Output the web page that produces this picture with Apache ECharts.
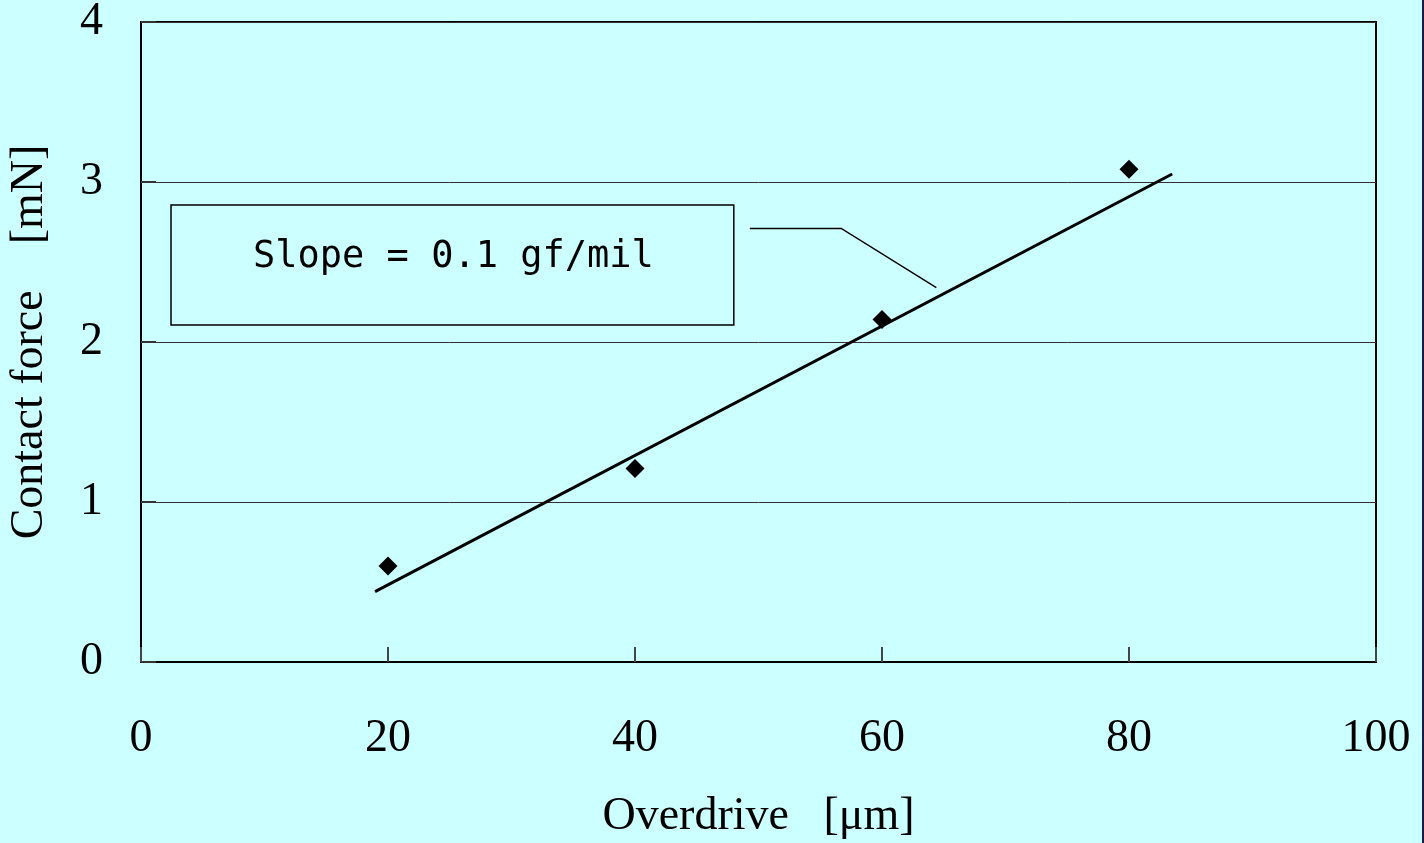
<!DOCTYPE html>
<html>
<head>
<meta charset="UTF-8">
<title>Contact force vs overdrive</title>
<style type="text/css">
	* { margin: 0; padding: 0; }
	html, body { background: #ccffff; }
	#chart { width: 1424px; height: 843px; }
</style>
</head>
<body>
<div id="chart"></div>
<script src="https://cdn.jsdelivr.net/npm/echarts@6/dist/echarts.min.js"></script>
<script type="text/javascript">
	// measured points
	var overdrive = [20, 40, 60, 80];
	var force = [0.6, 1.21, 2.14, 3.08];
	// fitted line ends
	var fitX = [18.95, 83.5];
	var fitY = [0.44, 3.05];
	var xTicks = [0, 20, 40, 60, 80, 100];
	var yTicks = [0, 1, 2, 3, 4];
	var slopeText = 'Slope = 0.1 gf/mil';

	var serif = '"Liberation Serif", "Times New Roman", serif';
	var chart = echarts.init(document.getElementById('chart'));

	var points = overdrive.map(function(x, i) { return [x, force[i]]; });
	var fit = fitX.map(function(x, i) { return [x, fitY[i]]; });

	chart.setOption({
		backgroundColor: '#ccffff',
		animation: false,
		grid: {
			left: 141, right: 48, top: 22, bottom: 181,
			outerBoundsMode: 'none', containLabel: false,
			show: true, borderColor: '#000', borderWidth: 2
		},
		xAxis: {
			type: 'value', min: xTicks[0], max: xTicks[xTicks.length - 1], interval: 20,
			name: 'Overdrive\u00a0\u00a0\u00a0[\u03bcm]', nameLocation: 'middle', nameGap: 132,
			nameTextStyle: { fontFamily: serif, fontSize: 46, color: '#000' },
			axisLine: { lineStyle: { color: '#000', width: 2 } },
			axisTick: { inside: true, length: 15, lineStyle: { color: '#444', width: 2 } },
			axisLabel: { fontFamily: serif, fontSize: 46, color: '#000', margin: 54 },
			splitLine: { show: false }
		},
		yAxis: {
			type: 'value', min: yTicks[0], max: yTicks[yTicks.length - 1], interval: 1,
			name: 'Contact force\u00a0\u00a0\u00a0\u00a0[mN]', nameLocation: 'middle', nameGap: 88,
			nameTextStyle: { fontFamily: serif, fontSize: 46, color: '#000' },
			axisLine: { lineStyle: { color: '#000', width: 2 } },
			axisTick: { inside: true, length: 15, lineStyle: { color: '#333', width: 2 } },
			axisLabel: { fontFamily: serif, fontSize: 46, color: '#000', margin: 38 },
			splitLine: { show: true, lineStyle: { color: '#333', width: 1 } }
		},
		series: [{
			type: 'line', data: fit, symbol: 'none',
			lineStyle: { color: '#000', width: 3 }
		}, {
			type: 'scatter', data: points, symbol: 'diamond', symbolSize: [19, 19],
			itemStyle: { color: '#000', opacity: 1 }
		}]
	});

	// callout box and leader, placed in data coordinates
	function px(p) { return chart.convertToPixel({ gridIndex: 0 }, p); }
	var b0 = px([2.43, 2.856]), b1 = px([48.0, 2.106]);
	var l0 = px([49.3, 2.71]), l1 = px([56.7, 2.71]), l2 = px([64.4, 2.34]);
	chart.setOption({
		graphic: [{
			type: 'rect',
			shape: { x: b0[0], y: b0[1], width: b1[0] - b0[0], height: b1[1] - b0[1] },
			style: { fill: 'none', stroke: '#000', lineWidth: 1.5 }
		}, {
			type: 'text', x: (b0[0] + b1[0]) / 2 + 1, y: (b0[1] + b1[1]) / 2 - 8,
			style: {
				text: slopeText, fill: '#000', align: 'center', verticalAlign: 'middle',
				font: '37px "DejaVu Sans Mono", "Liberation Mono", monospace'
			}
		}, {
			type: 'polyline',
			shape: { points: [l0, l1, l2] },
			style: { fill: 'none', stroke: '#000', lineWidth: 1.5 }
		}, {
			type: 'rect', shape: { x: 1422, y: 0, width: 2, height: 843 },
			style: { fill: '#1a1a4a' }
		}]
	});
</script>
</body>
</html>
